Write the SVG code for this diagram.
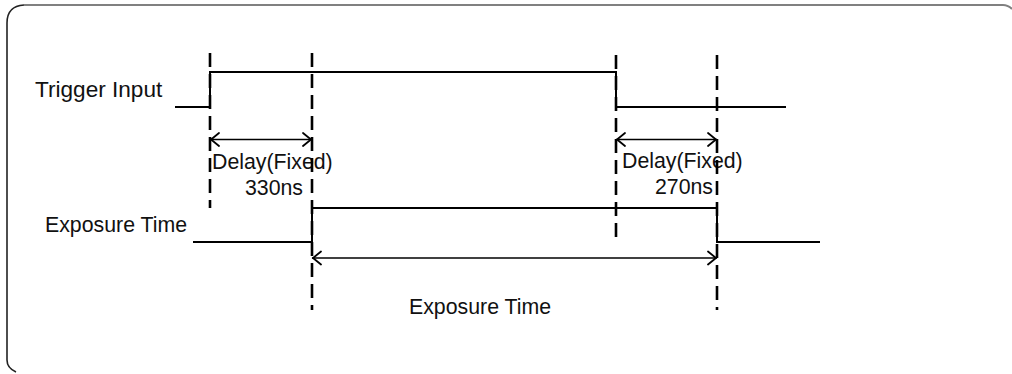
<svg xmlns="http://www.w3.org/2000/svg" width="1012" height="374" viewBox="0 0 1012 374">
<style>
.sig{fill:none;stroke:#000;stroke-width:2}
.dash{fill:none;stroke:#000;stroke-width:2.6;stroke-dasharray:14 7}
.dim{fill:none;stroke:#000;stroke-width:1.6}
.head{fill:none;stroke:#000;stroke-width:1.8;stroke-linecap:round;stroke-linejoin:miter}
text{font-family:"Liberation Sans",Arial,sans-serif;font-size:21.3px;fill:#111}
</style>
<rect width="1012" height="374" fill="#fff"/>
<g id="frame">
<path d="M24 5 H1003 Q1008 5 1012 9" fill="none" stroke="#808080" stroke-width="2"/>
<path d="M24 5 Q7 6 7 23 V360 Q7 368 16 372" fill="none" stroke="#222" stroke-width="1.6"/>
</g>
<g id="trigger-input">
<text x="35" y="97" style="font-size:22.6px">Trigger Input</text>
<path class="sig" d="M175 107 H210 V72 H616 V107 H786"/>
</g>
<g id="exposure-signal">
<text x="45" y="232">Exposure Time</text>
<path class="sig" d="M193 242 H312 V208 H717 V242 H820"/>
</g>
<g id="delay-330">
<text x="212" y="169">Delay(Fixed)</text>
<text x="303" y="195" text-anchor="end">330ns</text>
</g>
<g id="delay-270">
<text x="622" y="168">Delay(Fixed)</text>
<text x="713" y="194" text-anchor="end">270ns</text>
</g>
<g id="exposure-label">
<text x="409" y="314">Exposure Time</text>
</g>
<g id="connectors">
<line class="dash" x1="210" y1="53" x2="210" y2="208"/>
<line class="dash" x1="312" y1="53" x2="312" y2="310"/>
<line class="dash" x1="616" y1="55" x2="616" y2="242"/>
<line class="dash" x1="717" y1="55" x2="717" y2="310"/>
<line class="dim" x1="210" y1="139.5" x2="312" y2="139.5"/>
<path class="head" d="M219 133 L211 139.5 L219 146 M303 133 L311 139.5 L303 146"/>
<line class="dim" x1="616" y1="139.5" x2="717" y2="139.5"/>
<path class="head" d="M625 133 L617 139.5 L625 146 M708 133 L716 139.5 L708 146"/>
<line class="dim" x1="312" y1="258" x2="717" y2="258"/>
<path class="head" d="M321 251.5 L313 258 L321 264.5 M708 251.5 L716 258 L708 264.5"/>
</g>
</svg>
